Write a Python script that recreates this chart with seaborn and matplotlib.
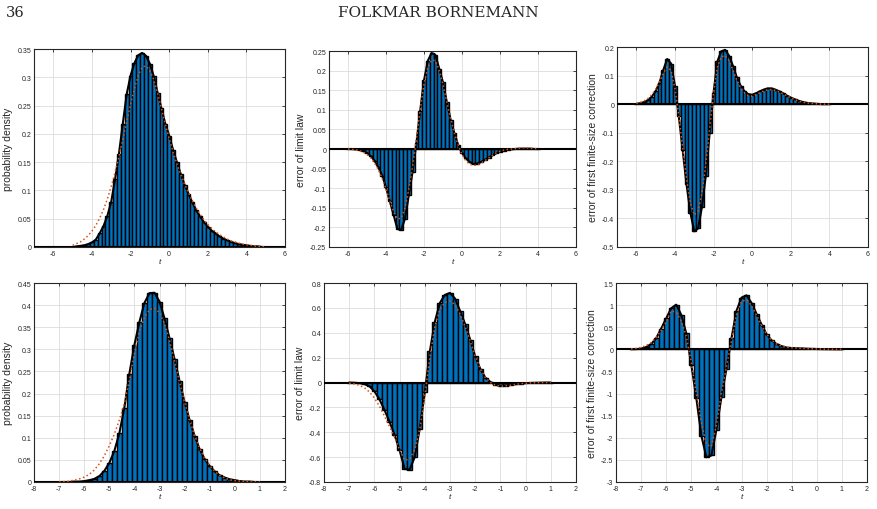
import numpy as np
import matplotlib
matplotlib.use("Agg")
import matplotlib.pyplot as plt
from matplotlib.ticker import FuncFormatter, MultipleLocator
import seaborn as sns

# values read off the reference, sampled every 0.2 in t
# top row: t from -5.0 (density) / -6.0 (errors)
dens_top_start = -5.0
dens_top_exact = [0.000, 0.001, 0.002, 0.003, 0.005, 0.008, 0.013, 0.024, 0.037, 0.055,
                  0.080, 0.120, 0.165, 0.218, 0.270, 0.303, 0.325, 0.339, 0.343, 0.338,
                  0.324, 0.302, 0.273, 0.245, 0.218, 0.197, 0.172, 0.150, 0.129, 0.110,
                  0.094, 0.079, 0.065, 0.054, 0.044, 0.036, 0.029, 0.024, 0.019, 0.015,
                  0.012, 0.009, 0.007, 0.005, 0.004, 0.003, 0.002, 0.001, 0.001, 0.000, 0.000]
dens_top_limit = [0.003, 0.006, 0.009, 0.014, 0.020, 0.028, 0.038, 0.051, 0.066, 0.085,
                  0.107, 0.132, 0.160, 0.190, 0.222, 0.252, 0.280, 0.303, 0.318, 0.320,
                  0.312, 0.296, 0.272, 0.245, 0.217, 0.192, 0.168, 0.147, 0.128, 0.111,
                  0.096, 0.082, 0.069, 0.058, 0.048, 0.040, 0.033, 0.027, 0.022, 0.018,
                  0.014, 0.011, 0.009, 0.007, 0.005, 0.004, 0.003, 0.002, 0.001, 0.001, 0.000]

err_top_start = -6.0
err_top_exact = [0.000, 0.000, -0.001, -0.002, -0.005, -0.010, -0.018, -0.030, -0.047, -0.068,
                 -0.098, -0.133, -0.168, -0.204, -0.206, -0.178, -0.118, -0.058, 0.015, 0.098,
                 0.175, 0.225, 0.245, 0.240, 0.205, 0.170, 0.120, 0.075, 0.040, 0.010,
                 -0.010, -0.024, -0.033, -0.038, -0.037, -0.033, -0.028, -0.022, -0.016, -0.011,
                 -0.007, -0.004, -0.002, -0.001, 0.000, 0.001, 0.001, 0.001, 0.001, 0.000, 0.000]
err_top_limit = [0.000, -0.001, -0.002, -0.004, -0.008, -0.014, -0.023, -0.036, -0.053, -0.075,
                 -0.102, -0.132, -0.160, -0.178, -0.177, -0.150, -0.103, -0.045, 0.025, 0.100,
                 0.165, 0.208, 0.227, 0.225, 0.200, 0.165, 0.120, 0.077, 0.040, 0.010,
                 -0.014, -0.030, -0.039, -0.042, -0.041, -0.036, -0.030, -0.023, -0.016, -0.010,
                 -0.006, -0.003, -0.001, 0.000, 0.001, 0.002, 0.003, 0.003, 0.002, 0.001, 0.001]

corr_top_start = -6.0
corr_top_exact = [0.001, 0.003, 0.007, 0.014, 0.026, 0.045, 0.075, 0.120, 0.158, 0.142,
                  0.065, -0.042, -0.160, -0.280, -0.380, -0.445, -0.435, -0.360, -0.250, -0.100,
                  0.040, 0.150, 0.185, 0.190, 0.170, 0.135, 0.095, 0.065, 0.045, 0.035,
                  0.033, 0.038, 0.045, 0.051, 0.055, 0.055, 0.051, 0.045, 0.038, 0.030,
                  0.023, 0.017, 0.012, 0.008, 0.005, 0.003, 0.002, 0.001, 0.000, 0.000, 0.000]
corr_top_limit = [0.003, 0.006, 0.011, 0.020, 0.033, 0.052, 0.078, 0.108, 0.130, 0.118,
                  0.055, -0.040, -0.150, -0.260, -0.345, -0.388, -0.375, -0.310, -0.210, -0.085,
                  0.040, 0.130, 0.165, 0.170, 0.152, 0.120, 0.085, 0.058, 0.040, 0.030,
                  0.028, 0.033, 0.040, 0.046, 0.050, 0.051, 0.048, 0.043, 0.036, 0.029,
                  0.022, 0.016, 0.011, 0.007, 0.005, 0.003, 0.002, 0.001, 0.000, 0.000, 0.000]

# bottom row: t from -7.0 / -7.4
dens_bot_start = -7.0
dens_bot_exact = [0.000, 0.000, 0.000, 0.001, 0.001, 0.002, 0.004, 0.007, 0.013, 0.025,
                  0.043, 0.070, 0.110, 0.168, 0.245, 0.310, 0.362, 0.405, 0.427, 0.428,
                  0.408, 0.370, 0.325, 0.278, 0.228, 0.180, 0.140, 0.104, 0.074, 0.052,
                  0.036, 0.024, 0.015, 0.010, 0.006, 0.004, 0.002, 0.001, 0.001, 0.000, 0.000]
dens_bot_limit = [0.000, 0.001, 0.002, 0.004, 0.007, 0.011, 0.017, 0.027, 0.041, 0.059,
                  0.082, 0.108, 0.140, 0.178, 0.230, 0.290, 0.340, 0.372, 0.390, 0.393,
                  0.383, 0.358, 0.320, 0.274, 0.226, 0.180, 0.140, 0.105, 0.076, 0.054,
                  0.037, 0.024, 0.015, 0.009, 0.005, 0.003, 0.002, 0.001, 0.000, 0.000, 0.000]

err_bot_start = -7.0
err_bot_exact = [0.000, -0.002, -0.005, -0.012, -0.030, -0.070, -0.135, -0.220, -0.315, -0.420,
                 -0.545, -0.695, -0.700, -0.600, -0.370, -0.080, 0.250, 0.490, 0.640, 0.705,
                 0.720, 0.675, 0.575, 0.470, 0.345, 0.210, 0.110, 0.040, 0.005, -0.018,
                 -0.027, -0.025, -0.020, -0.014, -0.009, -0.005, -0.003, -0.002, -0.001, 0.000, 0.000]
err_bot_limit = [-0.005, -0.011, -0.022, -0.042, -0.075, -0.125, -0.190, -0.270, -0.355, -0.440,
                 -0.540, -0.625, -0.615, -0.540, -0.380, -0.110, 0.200, 0.450, 0.590, 0.645,
                 0.655, 0.625, 0.550, 0.450, 0.335, 0.210, 0.110, 0.040, 0.000, -0.022,
                 -0.030, -0.028, -0.022, -0.015, -0.010, -0.006, -0.003, -0.002, -0.001, 0.000, 0.000]

corr_bot_start = -7.4
corr_bot_exact = [0.002, 0.006, 0.015, 0.050, 0.120, 0.250, 0.470, 0.700, 0.930, 1.010,
                  0.780, 0.360, -0.350, -1.100, -1.950, -2.440, -2.400, -1.820, -1.080, -0.440,
                  0.250, 0.870, 1.170, 1.220, 1.050, 0.800, 0.560, 0.340, 0.200, 0.120,
                  0.070, 0.040, 0.030, 0.024, 0.019, 0.015, 0.011, 0.008, 0.005, 0.003,
                  0.002, 0.001, 0.000]
corr_bot_limit = [0.010, 0.022, 0.045, 0.085, 0.150, 0.270, 0.430, 0.620, 0.870, 0.840,
                  0.640, 0.300, -0.300, -1.000, -1.650, -2.150, -2.200, -1.720, -1.000, -0.400,
                  0.200, 0.780, 1.080, 1.120, 0.990, 0.770, 0.540, 0.345, 0.205, 0.120,
                  0.070, 0.045, 0.034, 0.028, 0.022, 0.017, 0.012, 0.009, 0.006, 0.004,
                  0.002, 0.001, 0.000]

ylabels = ["probability density", "error of limit law", "error of first finite-size correction"]

sns.set_theme(style="whitegrid")
plt.rcParams["font.family"] = ["Liberation Sans", "DejaVu Sans"]
plt.rcParams["axes.unicode_minus"] = False

fig = plt.figure(figsize=(8.77, 5.10), dpi=100)
W, H = 877, 510

# axes boxes in pixels: left, top, right, bottom
boxes = [(34, 50, 285, 248), (329, 52, 576, 248), (617, 48, 868, 248),
         (34, 284, 285, 483), (324, 284, 576, 483), (616, 284, 867, 483)]
panels = [
    (dens_top_start, dens_top_exact, dens_top_limit, (-7, 6), (0, 0.35), 0.05, ylabels[0]),
    (err_top_start, err_top_exact, err_top_limit, (-7, 6), (-0.25, 0.25), 0.05, ylabels[1]),
    (corr_top_start, corr_top_exact, corr_top_limit, (-7, 6), (-0.5, 0.2), 0.1, ylabels[2]),
    (dens_bot_start, dens_bot_exact, dens_bot_limit, (-8, 2), (0, 0.45), 0.05, ylabels[0]),
    (err_bot_start, err_bot_exact, err_bot_limit, (-8, 2), (-0.8, 0.8), 0.2, ylabels[1]),
    (corr_bot_start, corr_bot_exact, corr_bot_limit, (-8, 2), (-3, 1.5), 0.5, ylabels[2]),
]


def tick_fmt(v, p):
    v = round(v, 4)
    if abs(v) < 1e-9:
        return "0"
    return "%g" % v


fmt = FuncFormatter(tick_fmt)

for (l, tp, r, b), (start, exact, limit, xl, yl, ystep, ylab) in zip(boxes, panels):
    ax = fig.add_axes([l / W, 1 - b / H, (r - l) / W, (b - tp) / H])
    t = np.round(start + 0.2 * np.arange(len(exact)), 2)
    # histogram bars, exact curve (black) and limit law (red dotted)
    sns.barplot(x=t, y=exact, native_scale=True, width=1.0, color="#0072BD",
                saturation=1, edgecolor="black", linewidth=1.0, errorbar=None, ax=ax)
    ax.axhline(0, color="black", lw=1.5, zorder=3)
    sns.lineplot(x=t, y=exact, color="black", lw=1.5, ax=ax, zorder=4)
    sns.lineplot(x=t, y=limit, color="#D95319", lw=1.1, linestyle=":", ax=ax, zorder=5)

    ax.set_xlim(*xl)
    ax.set_ylim(yl[0] - 1e-6, yl[1] + 1e-6)
    ax.xaxis.set_major_locator(MultipleLocator(2 if xl[0] == -7 else 1))
    ax.yaxis.set_major_locator(MultipleLocator(ystep))
    ax.xaxis.set_major_formatter(fmt)
    ax.yaxis.set_major_formatter(fmt)
    ax.grid(True, color="#dcdcdc", lw=0.6)
    ax.set_axisbelow(True)
    for s in ax.spines.values():
        s.set_color("#262626")
        s.set_linewidth(0.8)
    ax.tick_params(direction="in", top=True, right=True, length=2.5, width=0.6,
                   labelsize=5, pad=2, colors="#262626")
    ax.set_xlabel("t", fontsize=6, style="italic", labelpad=1, color="#262626")
    ax.set_ylabel(ylab, fontsize=7.5, labelpad=3, color="#262626")

fig.text(6 / W, 1 - 13 / H, "36", fontsize=10.5, family="DejaVu Serif", va="center", ha="left")
fig.text(438 / W, 1 - 13 / H, "FOLKMAR BORNEMANN", fontsize=11, family="DejaVu Serif",
         va="center", ha="center")

fig.savefig("out.png", dpi=100)
